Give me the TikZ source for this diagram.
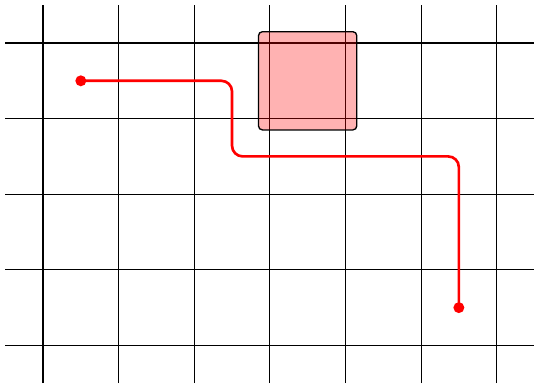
\documentclass[tikz,border=0pt]{standalone}
\begin{document}
\begin{tikzpicture}[x=1cm,y=1cm,
  gridline/.style={black,line width=0.4pt},
  obstacle/.style={draw=black,line width=0.5pt,fill=red,fill opacity=0.3,draw opacity=1,rounded corners=1.5pt,minimum size=1.3cm,inner sep=0pt},
  dotnode/.style={circle,fill=red,inner sep=0pt,minimum size=0.145cm},
  route/.style={red,line width=1pt,rounded corners=4pt}]
\useasboundingbox (-0.569,-0.497) rectangle (6.494,4.569);
\draw[gridline] (-0.5,-0.5) grid (6.5,4.5);
\node[obstacle] (box) at (3.5,3.5) {};
\node[dotnode] (start) at (0.5,3.5) {};
\node[dotnode] (goal) at (5.5,0.5) {};
\coordinate (c1) at (2.5,3.5);
\coordinate (c2) at (2.5,2.5);
\coordinate (c3) at (5.5,2.5);
\draw[route] (start.center) -- (c1) -- (c2) -- (c3) -- (goal.center);
\end{tikzpicture}
\end{document}
